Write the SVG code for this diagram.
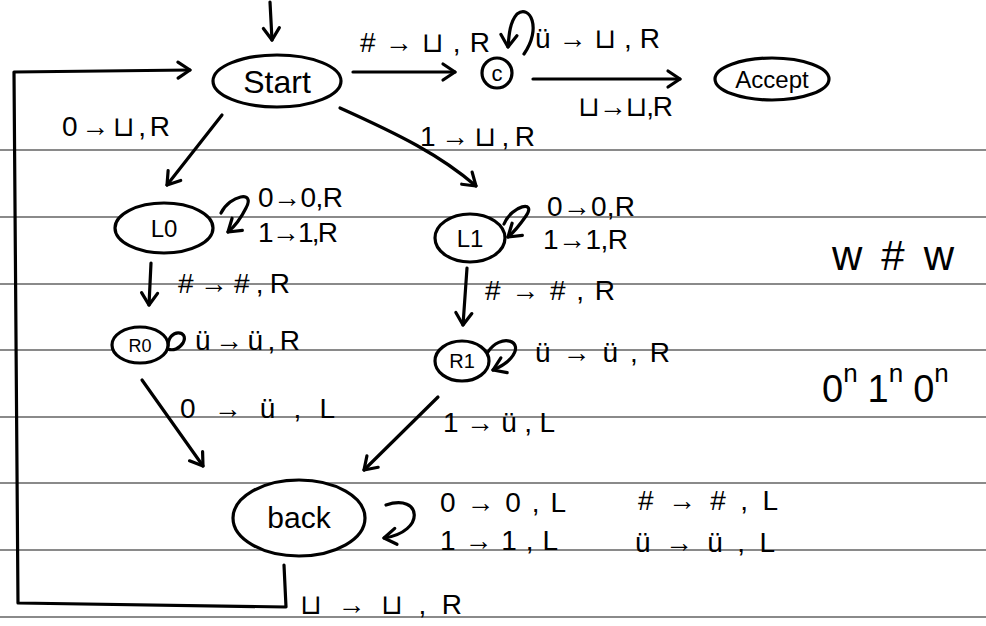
<svg xmlns="http://www.w3.org/2000/svg" width="986" height="626" viewBox="0 0 986 626">
<defs>
<style>
.rule{stroke:#8a8a8a;stroke-width:2}
.n{fill:#fff;stroke:#000;stroke-width:3.2}
.e{fill:none;stroke:#000;stroke-width:3.2;stroke-linecap:round;stroke-linejoin:round}
.t{font-family:"Liberation Sans","DejaVu Sans",sans-serif;fill:#000}
.lb{font-size:28px}
.nm{text-anchor:middle}
</style>
<marker id="ah" markerUnits="userSpaceOnUse" markerWidth="24" markerHeight="24" refX="15" refY="10" orient="auto" viewBox="0 0 24 20">
<path d="M3,2 L15,10 L3,18" fill="none" stroke="#000" stroke-width="3.2" stroke-linecap="round" stroke-linejoin="round"/>
</marker>
</defs>
<rect width="986" height="626" fill="#fff"/>
<g id="paper">
<line class="rule" x1="0" y1="150" x2="986" y2="150"/>
<line class="rule" x1="0" y1="217" x2="986" y2="217"/>
<line class="rule" x1="0" y1="284" x2="986" y2="284"/>
<line class="rule" x1="0" y1="350" x2="986" y2="350"/>
<line class="rule" x1="0" y1="417" x2="986" y2="417"/>
<line class="rule" x1="0" y1="483" x2="986" y2="483"/>
<line class="rule" x1="0" y1="550" x2="986" y2="550"/>
<line class="rule" x1="0" y1="617" x2="986" y2="617"/>
</g>
<g id="connectors">
<path class="e" d="M270,2 L272,40" marker-end="url(#ah)"/>
<path class="e" d="M353,72 L455,72" marker-end="url(#ah)"/>
<path class="e" d="M524,54 C542,28 530,4 517,14 C510,22 509,34 508,47" marker-end="url(#ah)"/>
<path class="e" d="M533,79 L680,79" marker-end="url(#ah)"/>
<path class="e" d="M222,115 L167,185" marker-end="url(#ah)"/>
<path class="e" d="M340,108 C400,135 440,155 476,186" marker-end="url(#ah)"/>
<path class="e" d="M221,213 C230,195 256,190 246,208 C240,220 234,227 228,232" marker-end="url(#ah)"/>
<path class="e" d="M504,224 C512,205 537,200 526,216 C519,226 514,232 508,237" marker-end="url(#ah)"/>
<path class="e" d="M151,263 L149,305" marker-end="url(#ah)"/>
<path class="e" d="M467,268 L463,325" marker-end="url(#ah)"/>
<path class="e" d="M168,346 C168,328 190,330 183,343 C179,349 173,351 168,349"/>
<path class="e" d="M488,352 C500,333 526,340 511,358 C506,364 500,367 493,370" marker-end="url(#ah)"/>
<path class="e" d="M142,380 L203,466" marker-end="url(#ah)"/>
<path class="e" d="M438,397 L364,470" marker-end="url(#ah)"/>
<path class="e" d="M386,505 C422,493 426,532 384,538" marker-end="url(#ah)"/>
<path class="e" d="M284,565 L286,607 L18,603 L14,72 L190,70" marker-end="url(#ah)"/>
</g>
<g id="labels">
<text class="t lb" x="360" y="52" textLength="130">#→⊔,R</text>
<text class="t lb" x="535" y="48" textLength="125">ü→⊔,R</text>
<text class="t lb" x="578" y="116" textLength="95">⊔→⊔,R</text>
<text class="t lb" x="62" y="136" textLength="108">0→⊔,R</text>
<text class="t lb" x="420" y="146" textLength="115">1→⊔,R</text>
<text class="t lb" x="258" y="207" textLength="85">0→0,R</text>
<text class="t lb" x="258" y="242" textLength="80">1→1,R</text>
<text class="t lb" x="547" y="216" textLength="88">0→0,R</text>
<text class="t lb" x="543" y="249" textLength="85">1→1,R</text>
<text class="t lb" x="178" y="293" textLength="112">#→#,R</text>
<text class="t lb" x="485" y="300" textLength="130">#→#,R</text>
<text class="t lb" x="195" y="350" textLength="105">ü→ü,R</text>
<text class="t lb" x="535" y="362" textLength="135">ü→ü,R</text>
<text class="t lb" x="180" y="418" textLength="155">0→ü,L</text>
<text class="t lb" x="443" y="432" textLength="112">1→ü,L</text>
<text class="t lb" x="440" y="512" textLength="126">0→0,L</text>
<text class="t lb" x="440" y="550" textLength="118">1→1,L</text>
<text class="t lb" x="638" y="510" textLength="140">#→#,L</text>
<text class="t lb" x="635" y="552" textLength="140">ü→ü,L</text>
<text class="t lb" x="300" y="614" textLength="162">⊔→⊔,R</text>
<text class="t" x="832" y="270" font-size="42" textLength="122">w#w</text>
<text class="t" x="822" y="402" font-size="38">0<tspan font-size="26" dy="-20">n</tspan><tspan dx="10" dy="20">1</tspan><tspan font-size="26" dy="-20">n</tspan><tspan dx="10" dy="20">0</tspan><tspan font-size="26" dy="-20">n</tspan></text>
</g>
<g id="start"><ellipse class="n" cx="277" cy="81" rx="64" ry="26"/><text class="t nm" x="277" y="93" font-size="32">Start</text></g>
<g id="c"><circle class="n" cx="497" cy="73" r="15"/><text class="t nm" x="497" y="81" font-size="22">c</text></g>
<g id="accept"><ellipse class="n" cx="772" cy="79" rx="57" ry="21"/><text class="t nm" x="772" y="88" font-size="24">Accept</text></g>
<g id="L0"><ellipse class="n" cx="164" cy="228" rx="49" ry="25"/><text class="t nm" x="164" y="237" font-size="24">L0</text></g>
<g id="L1"><ellipse class="n" cx="470" cy="238" rx="35" ry="24"/><text class="t nm" x="470" y="247" font-size="24">L1</text></g>
<g id="R0"><ellipse class="n" cx="140" cy="345" rx="28" ry="18"/><text class="t nm" x="140" y="352" font-size="18">R0</text></g>
<g id="R1"><ellipse class="n" cx="462" cy="361" rx="27" ry="20"/><text class="t nm" x="462" y="368" font-size="20">R1</text></g>
<g id="back"><ellipse class="n" cx="299" cy="518" rx="66" ry="38"/><text class="t nm" x="299" y="528" font-size="30">back</text></g>
</svg>
